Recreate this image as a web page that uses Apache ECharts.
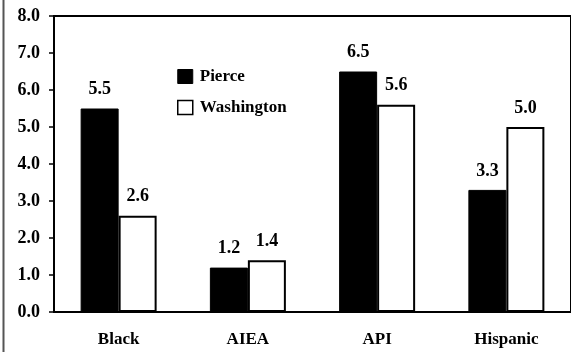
<!DOCTYPE html>
<html>
<head>
<meta charset="utf-8">
<script src="https://cdn.jsdelivr.net/npm/echarts@6/dist/echarts.min.js"></script>
<style>
html,body{margin:0;padding:0;background:#fff;}
#c{width:571px;height:352px;}
</style>
</head>
<body>
<div id="c"></div>
<script>
var categories = ['Black', 'AIEA', 'API', 'Hispanic'];
var pierce = [5.5, 1.2, 6.5, 3.3];
var washington = [2.6, 1.4, 5.6, 5.0];
var seriesNames = ['Pierce', 'Washington'];

var FONT = '"Liberation Serif", "Times New Roman", serif';
var chart = echarts.init(document.getElementById('c'), null, {renderer: 'canvas'});
var lbl = {
  show: true, position: 'top', distance: 10,
  color: '#000', fontFamily: FONT, fontWeight: 'bold', fontSize: 18,
  formatter: function (p) { return p.value.toFixed(1); }
};
chart.setOption({
  animation: false,
  backgroundColor: '#fff',
  textStyle: {fontFamily: FONT},
  grid: {left: 54, right: -7, top: 16, bottom: 40, show: true, borderColor: '#000', borderWidth: 2, backgroundColor: 'transparent'},
  legend: {
    orient: 'vertical', left: 172, top: 63,
    itemWidth: 15, itemHeight: 14, itemGap: 14,
    textStyle: {color: '#000', fontFamily: FONT, fontWeight: 'bold', fontSize: 17, padding: [0, 0, 0, 2]},
    data: [
      {name: seriesNames[0], icon: 'rect', itemStyle: {color: '#000', borderColor: '#000', borderWidth: 1}},
      {name: seriesNames[1], icon: 'rect', itemStyle: {color: '#fff', borderColor: '#000', borderWidth: 1.5}}
    ]
  },
  xAxis: {
    type: 'category', data: categories,
    axisLine: {lineStyle: {color: '#000', width: 2}},
    axisTick: {show: false},
    axisLabel: {color: '#000', fontFamily: FONT, fontWeight: 'bold', fontSize: 17, margin: 19}
  },
  yAxis: {
    type: 'value', min: 0, max: 8, interval: 1,
    axisLine: {show: true, lineStyle: {color: '#000', width: 2}},
    axisTick: {show: true, length: 5, lineStyle: {color: '#000', width: 1.5}},
    splitLine: {show: false},
    axisLabel: {color: '#000', fontFamily: FONT, fontWeight: 'bold', fontSize: 18, margin: 14,
      formatter: function (v) { return v.toFixed(1); }}
  },
  graphic: [{
    type: 'line', shape: {x1: 3.5, y1: 0, x2: 3.5, y2: 352},
    style: {stroke: '#555', lineWidth: 2}
  }],
  series: [
    {name: seriesNames[0], type: 'bar', data: pierce, barWidth: 38, barGap: '0%',
      itemStyle: {color: '#000', borderColor: '#000', borderWidth: 1}, label: lbl},
    {name: seriesNames[1], type: 'bar', data: washington, barWidth: 38, barGap: '0%',
      itemStyle: {color: '#fff', borderColor: '#000', borderWidth: 2}, label: lbl}
  ]
});
</script>
</body>
</html>
